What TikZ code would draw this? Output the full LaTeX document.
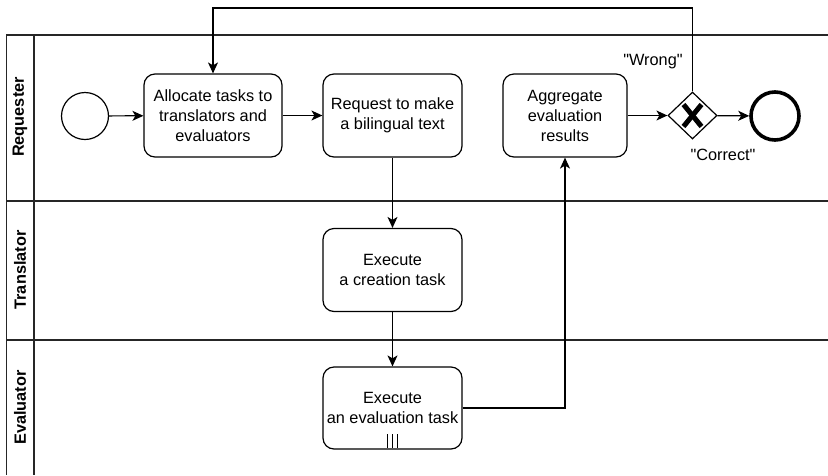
\documentclass[tikz,border=0pt]{standalone}
\usepackage{fontspec}
\setmainfont{Liberation Sans}[Ligatures=TeXOff]
\usetikzlibrary{arrows.meta,shapes.geometric,calc}

\tikzset{
  lbl/.style={font=\fontsize{16.3}{20}\selectfont, align=center, inner sep=0pt},
  lanelbl/.style={font=\bfseries\fontsize{16.3}{20}\selectfont, rotate=90, inner sep=0pt},
  task/.style={draw, rounded corners=11pt, minimum height=83pt, align=center,
    line width=1.2pt, font=\fontsize{16.3}{20}\selectfont, inner sep=2pt},
  poolline/.style={line width=1.8pt, draw=black!85},
  flow/.style={line width=1.2pt, -{Stealth[length=11pt,width=10pt,inset=3pt]}},
  startev/.style={draw, circle, minimum size=47pt, inner sep=0pt, line width=1.2pt},
  endev/.style={draw, circle, minimum size=48pt, inner sep=0pt, line width=3.6pt},
  gateway/.style={draw, diamond, minimum width=49pt, minimum height=47pt, inner sep=0pt, line width=1.2pt},
}

\begin{document}
\begin{tikzpicture}[x=1pt,y=-1pt]
\useasboundingbox (0,0) rectangle (828,475);

% pool and lanes
\draw[poolline] (828,35) -- (6.5,35) -- (6.5,475);
\draw[poolline] (34,35) -- (34,475);
\draw[poolline] (6.5,201) -- (828,201);
\draw[poolline] (6.5,340) -- (828,340);

\node[lanelbl] (lReq) at (20,117) {Requester};
\node[lanelbl] (lTra) at (20,270) {Translator};
\node[lanelbl] (lEva) at (20,407.5) {Evaluator};

% events, tasks and gateway
\node[startev] (start) at (85,116) {};
\node[task, minimum width=138pt] (alloc) at (213,115.5) {Allocate tasks to\\translators and\\evaluators};
\node[task, minimum width=139pt] (req) at (392.5,115.5) {Request to make\\a bilingual text};
\node[task, minimum width=124pt] (agg) at (565,115.5) {Aggregate\\evaluation\\results};
\node[gateway] (gw) at (692.5,115.5) {};
\draw[line width=5pt] ($(gw.center)+(-9,-11)$) -- ($(gw.center)+(9,11)$);
\draw[line width=5pt] ($(gw.center)+(-9,11)$) -- ($(gw.center)+(9,-11)$);
\node[endev] (end) at (775,116) {};

\node[task, minimum width=139pt] (create) at (392.5,270) {Execute\\a creation task};
\node[task, minimum width=139pt, minimum height=82pt] (evalt) at (392.5,408) {Execute\\an evaluation task};
% multi-instance marker
\draw[line width=1.2pt] (387.5,434) -- (387.5,448) (392.5,434) -- (392.5,448) (397.5,434) -- (397.5,448);

% gateway labels
\node[lbl] (wrong) at (653,62) {"Wrong"};
\node[lbl] (correct) at (723,155) {"Correct"};

% sequence flows
\draw[flow] (start) -- (alloc);
\draw[flow] (alloc) -- (req);
\draw[flow] (agg) -- (gw);
\draw[flow] (gw) -- (end);
\draw[flow] (req) -- (create);
\draw[flow] (create) -- (evalt);
\draw[flow] (evalt.east) -| (agg.south);
\coordinate (loopR) at (692.5,8);
\coordinate (loopL) at (213,8);
\draw[flow] (gw.north) -- (loopR) -- (loopL) -- (alloc.north);
\end{tikzpicture}
\end{document}
